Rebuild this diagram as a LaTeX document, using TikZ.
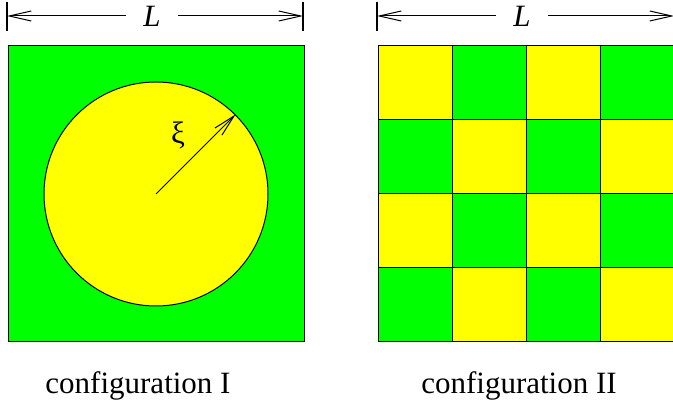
\documentclass[tikz,border=0pt]{standalone}
\usepackage{fontspec}
\setmainfont{Liberation Serif}
\usetikzlibrary{arrows.meta, positioning}
\definecolor{cfggreen}{RGB}{0,255,0}
\definecolor{cfgyellow}{RGB}{255,255,0}

\begin{document}
\begin{tikzpicture}[
    x=0.5pt, y=0.5pt,
    font=\fontsize{15.5}{18}\selectfont,
    panel/.style={draw, line width=0.5pt, minimum size=148pt, inner sep=0pt, fill=cfggreen},
    disc/.style={draw, circle, line width=0.5pt, minimum size=112pt, inner sep=0pt, fill=cfgyellow},
    cell/.style={draw, line width=0.5pt, minimum size=37pt, inner sep=0pt},
    lenlabel/.style={minimum width=26pt, inner sep=0pt},
    tickline/.style={line width=0.6pt},
    arrow/.style={-{Straight Barb[length=11pt, width=5pt]}, line width=0.5pt}
]
\useasboundingbox (0,0) rectangle (673,406);

% --- configuration I ---
\node[panel] (boxI) at (156,212) {};
\node[disc] (blob) at (boxI.center) {};
\draw[arrow] (blob.center) -- (blob.45);
\node (xi) at (178,271) {ξ};

\coordinate (tickIl) at (7,390);
\coordinate (tickIr) at (303,390);
\draw[tickline] ([yshift=7pt]tickIl) -- ([yshift=-7.5pt]tickIl);
\draw[tickline] ([yshift=7pt]tickIr) -- ([yshift=-7.5pt]tickIr);
\node[lenlabel] (LI) at (152,390) {\textit{L}};
\draw[arrow] (LI) -- (tickIl);
\draw[arrow] (LI) -- (tickIr);

\node[anchor=base] (capI) at (138,12) {configuration I};

% --- configuration II ---
\foreach \i in {0,...,3}{
  \foreach \j in {0,...,3}{
    \pgfmathtruncatemacro\cellsum{\i+\j}
    \ifodd\cellsum \def\cellcol{cfggreen}\else \def\cellcol{cfgyellow}\fi
    \node[cell, fill=\cellcol] (c\i\j) at ({415+74*\i},{323-74*\j}) {};
  }
}

\coordinate (tickIIl) at (377,390);
\coordinate (tickIIr) at (674,390);
\draw[tickline] ([yshift=7pt]tickIIl) -- ([yshift=-7.5pt]tickIIl);
\draw[tickline] ([yshift=7pt]tickIIr) -- ([yshift=-7.5pt]tickIIr);
\node[lenlabel] (LII) at (522,390) {\textit{L}};
\draw[arrow] (LII) -- (tickIIl);
\draw[arrow] (LII) -- (tickIIr);

\node[anchor=base] (capII) at (519,12) {configuration II};

\end{tikzpicture}
\end{document}
